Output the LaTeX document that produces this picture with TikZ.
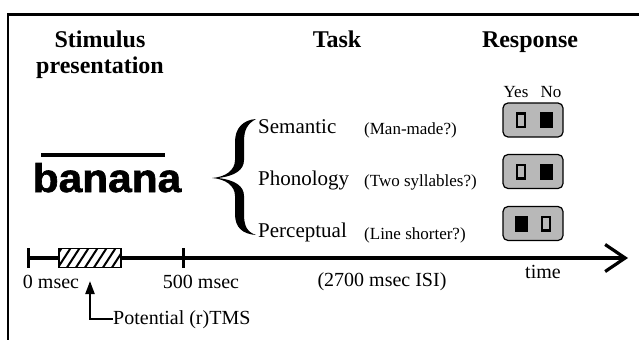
\documentclass[tikz,border=0pt]{standalone}
\usepackage{fontspec}
\setmainfont{Liberation Serif}
\newfontfamily\wordfont{Liberation Sans}[BoldFeatures={FakeBold=1.5}]
\usetikzlibrary{arrows.meta,positioning}
\definecolor{keygray}{gray}{0.72}
\tikzset{
  heading/.style={font=\fontsize{24}{26}\selectfont\bfseries, align=center, inner sep=0pt},
  task/.style={font=\fontsize{21}{24}\selectfont, anchor=base west, inner sep=0pt},
  question/.style={font=\fontsize{17}{20}\selectfont, anchor=base west, inner sep=0pt},
  timelabel/.style={font=\fontsize{20}{22}\selectfont, anchor=base, inner sep=0pt},
  keypad/.style={draw, rounded corners=5pt, fill=keygray, line width=1.2pt,
    minimum width=60pt, minimum height=34pt},
  keyoff/.style={draw, line width=2.5pt, fill=keygray, minimum width=8pt,
    minimum height=13.5pt, inner sep=0pt},
  keyon/.style={fill=black, minimum width=13pt, minimum height=16pt, inner sep=0pt},
  hatchbox/.style={draw, line width=1.5pt, fill=white, minimum width=62pt,
    minimum height=19pt, inner sep=0pt,
    path picture={
      \foreach \k in {0,...,8}
        \draw[line width=2pt] ([xshift=\k*9pt-10pt]path picture bounding box.south west) -- ++(13pt,20pt);
    }}
}
\begin{document}
\begin{tikzpicture}[x=1pt, y=-1pt]
  \useasboundingbox (0,0) rectangle (639,340);
  \draw[line width=2.7pt] (639,14.5) -| (8,340);

  % column headings
  \node[heading, anchor=north] (stim) at (100,30.6) {Stimulus\\presentation};
  \node[heading, anchor=base] (task) at (337,47) {Task};
  \node[heading, anchor=base] (resp) at (530,47) {Response};

  % stimulus: line and word
  \draw[line width=3.3pt] (41,155) -- (165,155);
  \node[font=\wordfont\bfseries\fontsize{40}{40}\selectfont, anchor=base, inner sep=0pt]
    (word) at (107,192) {\scalebox{1.06}[1]{banana}};

  % brace
  \fill (256,119) .. controls (243,120) and (235,128) .. (235,142)
    -- (235,160) .. controls (235,170) and (226,177) .. (212,178)
    .. controls (226,179) and (235,186) .. (235,196)
    -- (235,214) .. controls (235,228) and (243,234) .. (256,235)
    .. controls (247,232) and (244,226) .. (244,214)
    -- (244,196) .. controls (244,186) and (235,180) .. (218,178)
    .. controls (235,176) and (244,170) .. (244,160)
    -- (244,142) .. controls (244,130) and (247,124) .. (256,119) -- cycle;

  \node[task] (sem) at (258,133) {Semantic};
  \node[task] (pho) at (258,185) {Phonology};
  \node[task] (per) at (258,237) {Perceptual};
  \node[question] (semq) at (364,134) {(Man-made?)};
  \node[question] (phoq) at (364,186) {(Two syllables?)};
  \node[question] (perq) at (364,239) {(Line shorter?)};

  % response keys
  \node[question, anchor=base] (yes) at (516,97) {Yes};
  \node[question, anchor=base] (no) at (551,97) {No};
  \foreach \i/\y/\l/\r in {1/120/keyoff/keyon, 2/171.5/keyoff/keyon, 3/223.5/keyon/keyoff} {
    \node[keypad] (pad\i) at (533,\y) {};
    \node[\l] (yes\i) at (521,\y) {};
    \node[\r] (no\i) at (546,\y) {};
  }

  % time line
  \coordinate (t0) at (28,258);
  \coordinate (tend) at (628,258);
  \draw[line width=3.2pt, -{Straight Barb[length=20pt,width=27pt]}] (t0) -- (tend);
  \foreach \x in {28,183}
    \draw[line width=3pt] (\x,248) -- (\x,268);
  \node[hatchbox] (tmsbox) at (90,258) {};
  \node[timelabel] (zero) at (51,288) {0 msec};
  \node[timelabel] (half) at (201,288) {500 msec};
  \node[timelabel] (isi) at (382,286) {(2700 msec ISI)};
  \node[timelabel] (time) at (543,278) {time};

  \node[timelabel, anchor=base west] (tms) at (113,324) {Potential (r)TMS};
  \coordinate (tmstip) at (90,281);
  \draw[line width=2.2pt, -{Triangle[length=13pt,width=9pt]}] (tms.west) -| (tmstip);
\end{tikzpicture}
\end{document}
